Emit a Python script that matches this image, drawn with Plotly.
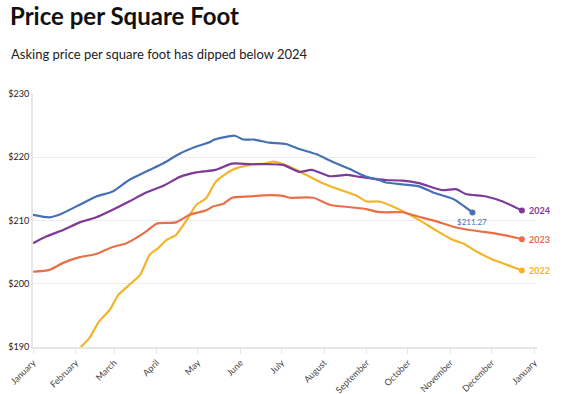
import plotly.graph_objects as go

# ---- data ----
months_ticks = ["January", "February", "March", "April", "May", "June", "July",
                "August", "September", "October", "November", "December", "January"]

dates_2025 = ["2023-01-01", "2023-01-13", "2023-01-20", "2023-02-04", "2023-02-16", "2023-02-28",
              "2023-03-12", "2023-03-24", "2023-04-06", "2023-04-18", "2023-04-30", "2023-05-10",
              "2023-05-12", "2023-05-28", "2023-06-03", "2023-06-11", "2023-06-22", "2023-07-04",
              "2023-07-14", "2023-07-26", "2023-08-07", "2023-08-20", "2023-09-01", "2023-09-10",
              "2023-09-15", "2023-10-09", "2023-10-21", "2023-11-03", "2023-11-17"]
vals_2025 = [210.9, 210.5, 210.9, 212.5, 213.8, 214.6,
             216.4, 217.7, 219.05, 220.6, 221.7, 222.4,
             222.7, 223.4, 222.8, 222.8, 222.3, 222.1,
             221.3, 220.5, 219.3, 218.1, 216.9, 216.4,
             216.0, 215.4, 214.3, 213.4, 211.27]

dates_2024 = ["2023-01-01", "2023-01-11", "2023-01-23", "2023-02-04", "2023-02-16", "2023-02-28",
              "2023-03-12", "2023-03-24", "2023-04-06", "2023-04-18", "2023-04-30", "2023-05-14",
              "2023-05-26", "2023-06-08", "2023-06-20", "2023-07-02", "2023-07-14", "2023-07-23",
              "2023-08-05", "2023-08-17", "2023-08-27", "2023-09-10", "2023-09-15", "2023-09-27",
              "2023-10-09", "2023-10-26", "2023-11-05", "2023-11-12", "2023-11-27", "2023-12-09",
              "2023-12-23"]
vals_2024 = [206.4, 207.5, 208.5, 209.7, 210.5, 211.7,
             213.0, 214.4, 215.5, 216.9, 217.6, 218.0,
             219.0, 218.9, 218.9, 218.8, 217.7, 218.0,
             217.0, 217.2, 216.9, 216.5, 216.4, 216.3,
             215.9, 214.8, 214.95, 214.2, 213.8, 213.0,
             211.6]

dates_2023 = ["2023-01-01", "2023-01-13", "2023-01-23", "2023-02-04", "2023-02-16", "2023-02-28",
              "2023-03-10", "2023-03-24", "2023-04-01", "2023-04-15", "2023-04-25", "2023-05-07",
              "2023-05-12", "2023-05-20", "2023-05-26", "2023-06-08", "2023-06-22", "2023-07-02",
              "2023-07-07", "2023-07-24", "2023-08-05", "2023-08-20", "2023-09-01", "2023-09-08",
              "2023-09-15", "2023-09-27", "2023-10-09", "2023-10-21", "2023-11-05", "2023-11-15",
              "2023-12-02", "2023-12-12", "2023-12-23"]
vals_2023 = [201.9, 202.2, 203.3, 204.2, 204.7, 205.8,
             206.4, 208.2, 209.5, 209.7, 210.9, 211.6,
             212.2, 212.7, 213.6, 213.8, 214.0, 213.9,
             213.6, 213.6, 212.5, 212.1, 211.8, 211.4,
             211.3, 211.3, 210.6, 209.9, 208.9, 208.5,
             208.0, 207.6, 207.05]

dates_2022 = ["2023-02-04", "2023-02-11", "2023-02-18", "2023-02-26", "2023-03-04", "2023-03-12",
              "2023-03-20", "2023-03-27", "2023-04-02", "2023-04-08", "2023-04-15", "2023-04-23",
              "2023-04-30", "2023-05-07", "2023-05-14", "2023-05-26", "2023-06-08", "2023-06-20",
              "2023-06-25", "2023-07-07", "2023-07-19", "2023-07-31", "2023-08-12", "2023-08-24",
              "2023-09-01", "2023-09-10", "2023-09-20", "2023-10-09", "2023-10-21", "2023-11-03",
              "2023-11-10", "2023-11-20", "2023-12-02", "2023-12-12", "2023-12-23"]
vals_2022 = [189.8, 191.4, 194.0, 195.9, 198.2, 199.8,
             201.4, 204.6, 205.6, 206.9, 207.7, 210.1,
             212.5, 213.5, 216.1, 218.0, 218.8, 219.05,
             219.3, 218.5, 217.2, 215.9, 214.9, 214.0,
             213.0, 213.0, 212.2, 210.1, 208.5, 206.9,
             206.4, 205.1, 203.8, 203.0, 202.1]

series = [
    ("2022", dates_2022, vals_2022, "#f4b42a"),
    ("2023", dates_2023, vals_2023, "#ea6f47"),
    ("2024", dates_2024, vals_2024, "#7d3a98"),
    ("2025", dates_2025, vals_2025, "#4670b4"),
]

fig = go.Figure()
for name, d, v, c in series:
    fig.add_trace(go.Scatter(x=d, y=v, mode="lines", name=name,
                             line=dict(color=c, width=2.2, shape="spline", smoothing=0.6),
                             hoverinfo="skip"))
    fig.add_trace(go.Scatter(x=[d[-1]], y=[v[-1]], mode="markers",
                             marker=dict(color=c, size=6), hoverinfo="skip",
                             cliponaxis=False))
    if name != "2025":
        fig.add_annotation(x=d[-1], y=v[-1], text="<b>%s</b>" % name, showarrow=False,
                           xanchor="left", yanchor="middle", xshift=5,
                           font=dict(family="Lato", size=9, color=c))
    else:
        fig.add_annotation(x=d[-1], y=v[-1], text="$%.2f" % v[-1], showarrow=False,
                           xanchor="center", yanchor="top", yshift=-3,
                           font=dict(family="Lato", size=8, color=c))

fig.add_annotation(xref="paper", yref="paper", x=-0.047, y=1.31,
                   text="<b>Price per Square Foot</b>", showarrow=False,
                   xanchor="left", yanchor="middle", borderpad=0,
                   font=dict(family="Lato", size=24, color="#111111"))
fig.add_annotation(xref="paper", yref="paper", x=-0.047, y=1.16,
                   text="Asking price per square foot has dipped below 2024", showarrow=False,
                   xanchor="left", yanchor="middle",
                   font=dict(family="Lato", size=13, color="#222222"))

fig.update_layout(
    width=567, height=394,
    margin=dict(l=33, r=30, t=94, b=47, autoexpand=False),
    paper_bgcolor="white", plot_bgcolor="white",
    showlegend=False,
    font=dict(family="Lato", color="#333333"),
)
fig.update_xaxes(
    type="date", range=["2023-01-01", "2024-01-03"],
    tick0="2023-01-01", dtick="M1", tickformat="%B",
    tickangle=-45, tickfont=dict(size=9, color="#444444"),
    showgrid=False, showline=True, linecolor="#e6e6e6", linewidth=2,
    ticks="outside", ticklen=5, tickcolor="#e6e6e6", tickwidth=1,
    zeroline=False, automargin=False,
)
fig.update_yaxes(
    range=[190, 230], tickvals=[190, 200, 210, 220, 230],
    ticktext=["$190", "$200", "$210", "$220", "$230"],
    tickfont=dict(size=9, color="#222222"),
    showgrid=True, gridcolor="#ececec", gridwidth=1,
    showline=True, linecolor="#e6e6e6", linewidth=2,
    zeroline=False, ticks="", ticklabelstandoff=0, automargin=False,
)

# remove the page's default body margin so the figure fills the window exactly
fig.write_html("out.html", config={"displayModeBar": False},
               post_script="document.body.style.margin='0';document.body.style.overflow='hidden';")
